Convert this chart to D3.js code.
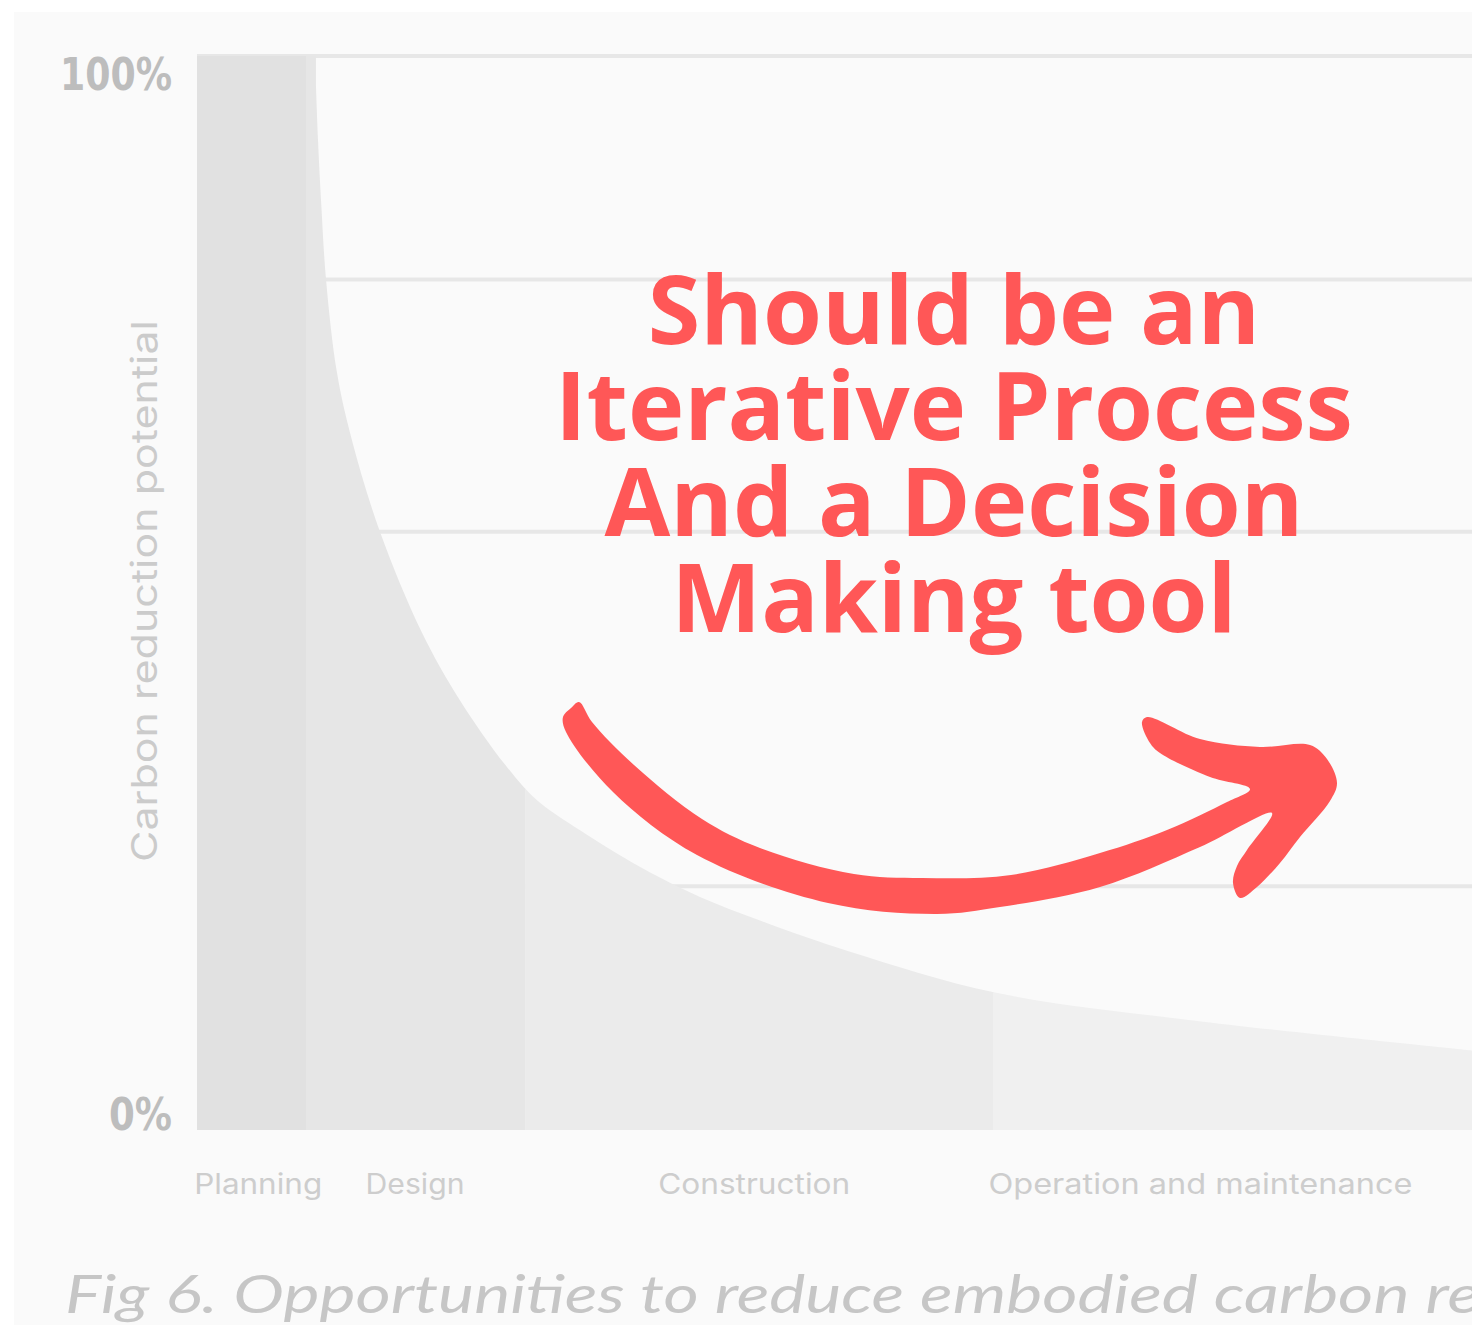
<!DOCTYPE html>
<html>
<head>
<meta charset="UTF-8">
<title>Carbon reduction potential</title>
<style>
body { margin: 0; background: #fff; }
svg { display: block; }
.grid line { stroke: #e7e7e7; stroke-width: 4; }
.ytick text { font-family: "DejaVu Sans", sans-serif; font-weight: bold; fill: #bdbdbd; }
.stage-label { font-family: "Inter", "DejaVu Sans", sans-serif; fill: #cdcdcd; }
</style>
</head>
<body>
<svg></svg>
<script src="https://d3js.org/d3.v7.min.js"></script>
<script>

// project stages (x in % of project life)
var stages = ["Planning", "Design", "Construction", "Operation and maintenance"];
var stageStart = [0, 8.55, 25.73, 62.43];
var stageEnd = [8.55, 25.73, 62.43, 100];
var stageLabelAt = [4.8, 17.1, 43.7, 78.7];
var stageFill = ["#e1e1e1", "#e6e6e6", "#ebebeb", "#f0f0f0"];

// carbon reduction potential curve (%)
var curveX = [9.25, 9.49, 9.76, 10.12, 10.98, 12.16, 14.35, 17.65, 20.63, 24.31, 26.67, 30.04, 33.57, 36.31, 39.45, 44.16, 51.22, 62.59, 78.12, 100];
var curveY = [100, 92.2, 85.9, 79.2, 70.5, 64.2, 55.7, 46.3, 40.0, 33.8, 30.7, 27.9, 25.3, 23.5, 21.7, 19.5, 16.6, 12.8, 10.2, 7.4];

var gridValues = [100, 79.2, 55.7, 22.7];
var yTicks = [0, 100];

var message = ["Should be an", "Iterative Process", "And a Decision", "Making tool"];
var caption = "Fig 6. Opportunities to reduce embodied carbon re";
var yTitle = "Carbon reduction potential";

var W = 1472, H = 1325;
var svg = d3.select("svg").attr("width", W).attr("height", H);

svg.append("rect").attr("x", 14).attr("y", 12).attr("width", W - 14).attr("height", H - 12).attr("fill", "#fafafa");

var x = d3.scaleLinear().domain([0, 100]).range([197, 1472]);
var y = d3.scaleLinear().domain([0, 100]).range([1130, 56]);

// gridlines (under the area)
svg.append("g").attr("class", "grid")
  .selectAll("line").data(gridValues).enter().append("line")
  .attr("x1", x(0)).attr("x2", W)
  .attr("y1", function (d) { return y(d); })
  .attr("y2", function (d) { return y(d); });

// clip = area under the curve
var pts = curveX.map(function (d, i) { return [d, curveY[i]]; });
var area = d3.area()
  .x(function (d) { return x(d[0]); })
  .y0(y(0))
  .y1(function (d) { return y(d[1]); })
  .curve(d3.curveCatmullRom.alpha(0.5));

var clip = svg.append("clipPath").attr("id", "under");
clip.append("rect").attr("x", x(0)).attr("y", y(100))
  .attr("width", x(curveX[0]) - x(0) + 1).attr("height", y(0) - y(100));
clip.append("path").attr("d", area(pts));

svg.append("g").attr("clip-path", "url(#under)")
  .selectAll("rect").data(stages).enter().append("rect")
  .attr("x", function (d, i) { return x(stageStart[i]); })
  .attr("width", function (d, i) { return x(stageEnd[i]) - x(stageStart[i]) + (i < 3 ? 0.5 : 0); })
  .attr("y", y(100))
  .attr("height", y(0) - y(100))
  .attr("fill", function (d, i) { return stageFill[i]; });

// y axis ticks
var yAxis = svg.append("g").attr("transform", "translate(172,0)")
  .call(d3.axisLeft(y).tickValues(yTicks).tickSize(0).tickPadding(0).tickFormat(function (d) { return d + "%"; }));
yAxis.select(".domain").remove();
yAxis.selectAll(".tick").attr("class", "tick ytick");
yAxis.selectAll("text")
  .attr("font-size", 44)
  .attr("dy", function (d) { return d === 100 ? "0.72em" : "0"; })
  .attr("y", function (d) { return d === 100 ? 2 : -1; })
  .attr("textLength", function (d) { return d === 100 ? 112 : 63; })
  .attr("lengthAdjust", "spacingAndGlyphs");

// y title
svg.append("text")
  .attr("transform", "translate(157,591) rotate(-90)")
  .attr("text-anchor", "middle")
  .attr("font-family", "Inter, 'DejaVu Sans', sans-serif")
  .attr("font-size", 36)
  .attr("fill", "#cbcbcb")
  .attr("textLength", 542)
  .attr("lengthAdjust", "spacingAndGlyphs")
  .text(yTitle);

// stage labels
var labW = [128, 99, 192, 424];
svg.append("g").selectAll("text").data(stages).enter().append("text")
  .attr("class", "stage-label")
  .attr("x", function (d, i) { return x(stageLabelAt[i]); })
  .attr("y", 1194)
  .attr("text-anchor", "middle")
  .attr("font-size", 28)
  .attr("textLength", function (d, i) { return labW[i]; })
  .attr("lengthAdjust", "spacingAndGlyphs")
  .text(function (d) { return d; });

// caption
svg.append("text")
  .attr("x", 65).attr("y", 1313)
  .attr("font-family", "Lato, 'DejaVu Sans', sans-serif")
  .attr("font-style", "italic")
  .attr("font-size", 52)
  .attr("fill", "#c6c6c6")
  .attr("textLength", 1415)
  .attr("lengthAdjust", "spacingAndGlyphs")
  .text(caption);

// red message, sized so the widest line spans ~798px
var msg = svg.append("g").attr("font-family", "'Open Sans', sans-serif")
  .attr("font-weight", 700).attr("fill", "#ff5757").attr("text-anchor", "middle");
var lines = msg.selectAll("text").data(message).enter().append("text")
  .attr("x", 954)
  .attr("y", function (d, i) { return 344 + i * 96; })
  .attr("font-size", 94)
  .text(function (d) { return d; });
var widest = d3.max(lines.nodes(), function (n) { return n.getComputedTextLength(); });
lines.attr("font-size", 94 * 798 / widest);

// hand drawn arrow annotation
var arrowShape = [
  [571, 708], [579, 702], [592, 722], [634, 765], [702, 819], [760, 848], [854, 874], [922, 878],
  [1011, 875], [1100, 853], [1167, 830], [1227, 802], [1250, 789],
  [1210, 777], [1160, 753], [1150, 743], [1142, 722], [1147, 717],
  [1200, 739], [1260, 747], [1310, 745], [1327, 759], [1337, 783], [1330, 801],
  [1300, 837], [1280, 863], [1257, 887], [1240, 898], [1233, 883], [1237, 866], [1247, 850], [1272, 813],
  [1200, 847], [1100, 887], [1000, 907], [937, 914], [828, 903], [697, 855], [613, 792], [566, 732], [563, 717]
];
svg.append("path")
  .attr("d", d3.line().curve(d3.curveCatmullRomClosed.alpha(0.5))(arrowShape))
  .attr("fill", "#ff5757");

</script>
</body>
</html>
